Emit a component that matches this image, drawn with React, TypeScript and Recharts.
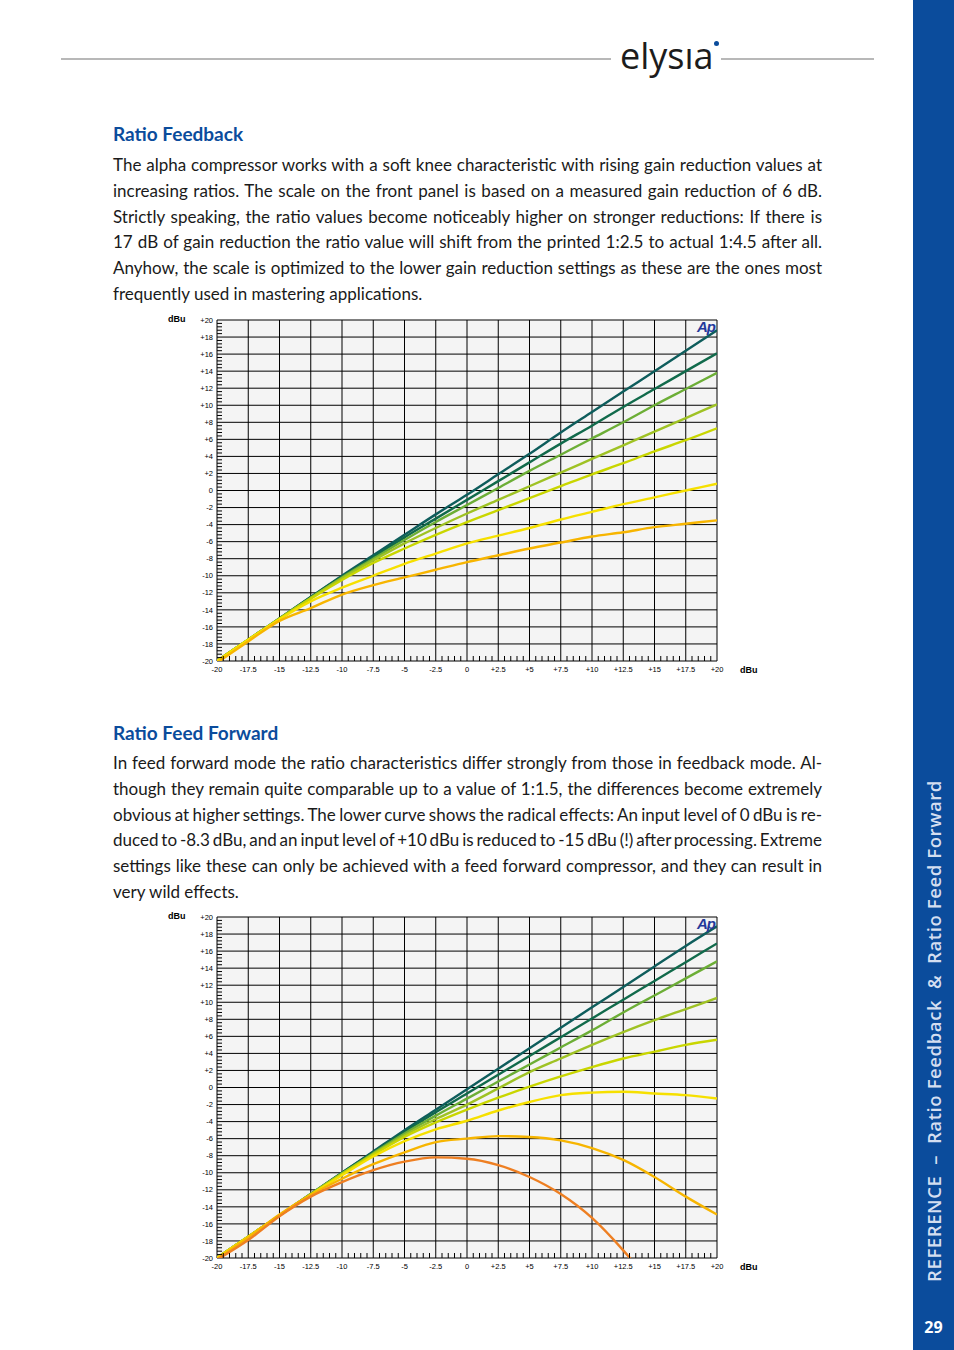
import { LineChart, Line, XAxis, YAxis, CartesianGrid } from "recharts";

// input level (dBu) on the x axis
const inputLevels = [-20, -17.5, -15, -12.5, -10, -7.5, -5, -2.5, 0, 2.5, 5, 7.5, 10, 12.5, 15, 17.5, 20];

// ratio feedback: output level per ratio setting
const fbTeal = [-20, -17.5, -15, -12.5, -10, -7.6, -5.2, -2.8, -0.5, 1.9, 4.3, 6.8, 9.2, 11.6, 14, 16.4, 18.8];
const fbDarkGreen = [-20, -17.5, -15, -12.5, -10.1, -7.8, -5.5, -3.3, -1.1, 1.1, 3.3, 5.5, 7.6, 9.8, 11.9, 14, 16.1];
const fbGreen = [-20, -17.5, -15, -12.6, -10.2, -8, -5.8, -3.7, -1.7, 0.3, 2.3, 4.2, 6.1, 8, 10, 11.9, 13.8];
const fbYellowGreen = [-20, -17.5, -15, -12.6, -10.3, -8.2, -6.2, -4.4, -2.7, -1.1, 0.5, 2.1, 3.7, 5.3, 6.9, 8.5, 10.1];
const fbLime = [-20, -17.5, -15.1, -12.7, -10.5, -8.5, -6.8, -5.2, -3.7, -2.3, -0.9, 0.5, 1.9, 3.2, 4.6, 5.9, 7.3];
const fbYellow = [-20, -17.5, -15.1, -13, -11.4, -10, -8.6, -7.4, -6.2, -5.3, -4.4, -3.4, -2.5, -1.6, -0.8, 0, 0.8];
const fbAmber = [-20.2, -17.7, -15.3, -13.8, -12.2, -11.1, -10.2, -9.3, -8.4, -7.6, -6.8, -6.1, -5.4, -4.9, -4.3, -3.9, -3.5];

// ratio feed forward
const ffTeal = [-20, -17.5, -15, -12.5, -10, -7.5, -5, -2.6, -0.2, 2.2, 4.6, 7, 9.4, 11.8, 14.2, 16.6, 18.9];
const ffDarkGreen = [-20, -17.5, -15, -12.5, -10, -7.6, -5.2, -2.9, -0.7, 1.5, 3.7, 5.9, 8.1, 10.3, 12.5, 14.7, 16.9];
const ffGreen = [-20, -17.5, -15, -12.5, -10.1, -7.7, -5.4, -3.3, -1.3, 0.7, 2.7, 4.7, 6.7, 8.8, 10.8, 12.8, 14.8];
const ffYellowGreen = [-20, -17.5, -15, -12.5, -10.1, -7.8, -5.6, -3.7, -2, -0.1, 1.8, 3.4, 5, 6.5, 7.9, 9.2, 10.5];
const ffLime = [-20, -17.5, -15, -12.6, -10.2, -7.9, -5.8, -4.1, -2.6, -1.2, 0.1, 1.3, 2.4, 3.4, 4.2, 5, 5.6];
const ffYellow = [-20, -17.5, -15, -12.6, -10.3, -8.1, -6.3, -4.9, -3.9, -2.7, -1.7, -0.9, -0.6, -0.5, -0.7, -0.9, -1.3];
const ffAmber = [-20.1, -17.6, -14.9, -12.6, -10.7, -9, -7.6, -6.4, -6, -5.7, -5.8, -6.2, -7.1, -8.5, -10.5, -12.8, -14.9];
const ffOrange = [-20.2, -17.9, -15.1, -12.8, -11.1, -9.7, -8.7, -8.2, -8.35, -9.1, -10.5, -12.5, -15.3, -19.1, -23.5, null, null];

const colors = ["#0e5d5c", "#116a4b", "#6cae36", "#9fc224", "#c9d600", "#f6e000", "#f7b500", "#ee7f22"];

const xTicks = [-20, -17.5, -15, -12.5, -10, -7.5, -5, -2.5, 0, 2.5, 5, 7.5, 10, 12.5, 15, 17.5, 20];
const xTickLabels = ["-20", "-17.5", "-15", "-12.5", "-10", "-7.5", "-5", "-2.5", "0", "+2.5", "+5", "+7.5", "+10", "+12.5", "+15", "+17.5", "+20"];
const yTicks = [-20, -18, -16, -14, -12, -10, -8, -6, -4, -2, 0, 2, 4, 6, 8, 10, 12, 14, 16, 18, 20];
const yTickLabels = ["-20", "-18", "-16", "-14", "-12", "-10", "-8", "-6", "-4", "-2", "0", "+2", "+4", "+6", "+8", "+10", "+12", "+14", "+16", "+18", "+20"];

// small ticks inside the frame
const minorX: number[] = [];
for (let i = 0; i <= 80; i++) if (i % 5 !== 0) minorX.push(-20 + i * 0.5);
const minorY: number[] = [];
for (let i = 0; i <= 100; i++) if (i % 5 !== 0) minorY.push(-20 + i * 0.4);

const feedbackText = [
  "The alpha compressor works with a soft knee characteristic with rising gain reduction values at",
  "increasing ratios. The scale on the front panel is based on a measured gain reduction of 6 dB.",
  "Strictly speaking, the ratio values become noticeably higher on stronger reductions: If there is",
  "17 dB of gain reduction the ratio value will shift from the printed 1:2.5 to actual 1:4.5 after all.",
  "Anyhow, the scale is optimized to the lower gain reduction settings as these are the ones most",
  "frequently used in mastering applications.",
];
const feedForwardText = [
  "In feed forward mode the ratio characteristics differ strongly from those in feedback mode. Al-",
  "though they remain quite comparable up to a value of 1:1.5, the differences become extremely",
  "obvious at higher settings. The lower curve shows the radical effects: An input level of 0 dBu is re-",
  "duced to -8.3 dBu, and an input level of +10 dBu is reduced to -15 dBu (!) after processing. Extreme",
  "settings like these can only be achieved with a feed forward compressor, and they can result in",
  "very wild effects.",
];

const blue = "#0b4c9c";
const axisFont = "'Liberation Sans', Arial, sans-serif";
const bodyFont = "Lato, 'Noto Sans', sans-serif";

type Curve = { key: string; values: (number | null)[]; color: string };

const feedbackCurves: Curve[] = [
  { key: "c1", values: fbTeal, color: colors[0] },
  { key: "c2", values: fbDarkGreen, color: colors[1] },
  { key: "c3", values: fbGreen, color: colors[2] },
  { key: "c4", values: fbYellowGreen, color: colors[3] },
  { key: "c5", values: fbLime, color: colors[4] },
  { key: "c6", values: fbYellow, color: colors[5] },
  { key: "c7", values: fbAmber, color: colors[6] },
];
const feedForwardCurves: Curve[] = [
  { key: "c1", values: ffTeal, color: colors[0] },
  { key: "c2", values: ffDarkGreen, color: colors[1] },
  { key: "c3", values: ffGreen, color: colors[2] },
  { key: "c4", values: ffYellowGreen, color: colors[3] },
  { key: "c5", values: ffLime, color: colors[4] },
  { key: "c6", values: ffYellow, color: colors[5] },
  { key: "c7", values: ffAmber, color: colors[6] },
  { key: "c8", values: ffOrange, color: colors[7] },
];

const fmtX = (v: number) => xTickLabels[xTicks.indexOf(v)] ?? String(v);
const fmtY = (v: number) => yTickLabels[yTicks.indexOf(v)] ?? String(v);
const noLabel = () => <g />;

function TransferChart({ curves, top }: { curves: Curve[]; top: number }) {
  const rows = inputLevels.map((x, i) => {
    const row: Record<string, number | null> = { x };
    curves.forEach((c) => {
      row[c.key] = c.values[i];
    });
    return row;
  });

  return (
    <div style={{ position: "absolute", left: 160, top, width: 620, height: 370 }}>
      <LineChart width={620} height={370} data={rows} margin={{ top: 10, right: 63, bottom: 0, left: 0 }}>
        <CartesianGrid stroke="#000" strokeWidth={1} fill="#f4f4f4" fillOpacity={1} />
        <XAxis
          xAxisId="minor"
          dataKey="x"
          type="number"
          domain={[-20, 20]}
          ticks={minorX}
          interval={0}
          height={1}
          mirror
          tickSize={5}
          axisLine={false}
          tickLine={{ stroke: "#000" }}
          tick={noLabel}
          allowDataOverflow
        />
        <XAxis
          dataKey="x"
          type="number"
          domain={[-20, 20]}
          ticks={xTicks}
          interval={0}
          height={19}
          tickSize={0}
          tickMargin={6}
          axisLine={false}
          tickLine={false}
          tickFormatter={fmtX}
          tick={{ fontSize: 7.5, fill: "#000", fontFamily: axisFont }}
          allowDataOverflow
        />
        <YAxis
          yAxisId="minor"
          type="number"
          domain={[-20, 20]}
          ticks={minorY}
          interval={0}
          width={1}
          mirror
          tickSize={5}
          axisLine={false}
          tickLine={{ stroke: "#000" }}
          tick={noLabel}
          allowDataOverflow
        />
        <YAxis
          type="number"
          domain={[-20, 20]}
          ticks={yTicks}
          interval={0}
          width={57}
          tickSize={0}
          tickMargin={4}
          axisLine={false}
          tickLine={false}
          tickFormatter={fmtY}
          tick={{ fontSize: 7.5, fill: "#000", fontFamily: axisFont }}
          allowDataOverflow
        />
        {curves.map((c) => (
          <Line
            key={c.key}
            dataKey={c.key}
            type="monotone"
            stroke={c.color}
            strokeWidth={2.4}
            dot={false}
            activeDot={false}
            connectNulls={false}
            isAnimationActive={false}
          />
        ))}
      </LineChart>
      <div style={{ position: "absolute", left: 8, top: 4, fontFamily: axisFont, fontWeight: 700, fontSize: 9 }}>dBu</div>
      <div style={{ position: "absolute", left: 580, top: 355, fontFamily: axisFont, fontWeight: 700, fontSize: 9 }}>dBu</div>
      <div
        style={{
          position: "absolute",
          left: 537,
          top: 8,
          fontFamily: axisFont,
          fontWeight: 700,
          fontStyle: "italic",
          fontSize: 15,
          color: "#24399a",
          letterSpacing: -1,
        }}
      >
        Ap
      </div>
    </div>
  );
}

function Paragraph({ lines, top }: { lines: string[]; top: number }) {
  return (
    <div style={{ position: "absolute", left: 113, top, width: 709, fontFamily: bodyFont, fontSize: 17, color: "#1a1a1a" }}>
      {lines.map((l, i) => {
        const last = i === lines.length - 1;
        return (
          <div
            key={i}
            style={{
              height: 25.8,
              lineHeight: "25.8px",
              whiteSpace: "nowrap",
              textAlign: "justify",
              textAlignLast: last ? "left" : "justify",
              wordSpacing: last ? 0 : -2,
            }}
          >
            {l}
          </div>
        );
      })}
    </div>
  );
}

export default function App() {
  return (
    <div style={{ position: "absolute", left: 0, top: 0, width: 954, height: 1350, background: "#fff", overflow: "hidden" }}>
      {/* header */}
      <div style={{ position: "absolute", left: 61, top: 58, width: 550, height: 1.5, background: "#b8b8b8" }} />
      <div style={{ position: "absolute", left: 721, top: 58, width: 153, height: 1.5, background: "#b8b8b8" }} />
      <div style={{ position: "absolute", left: 620, top: 36, fontFamily: "'Open Sans', sans-serif", fontSize: 36, lineHeight: "40px", color: "#1c1c1c" }}>
        elysıa
      </div>
      <div style={{ position: "absolute", left: 714, top: 41, width: 5, height: 5, borderRadius: 3, background: blue }} />

      {/* sidebar */}
      <div style={{ position: "absolute", left: 913, top: 0, width: 41, height: 1350, background: blue }} />
      <div
        style={{
          position: "absolute",
          left: 934 - 260,
          top: 1031 - 12,
          width: 520,
          height: 24,
          lineHeight: "24px",
          textAlign: "center",
          transform: "rotate(-90deg)",
          color: "#d4def0",
          fontFamily: "'Open Sans', sans-serif",
          fontSize: 18.5,
          fontWeight: 600,
          letterSpacing: 0.6,
          whiteSpace: "pre",
        }}
      >
        {"REFERENCE  –  Ratio Feedback  &  Ratio Feed Forward"}
      </div>
      <div style={{ position: "absolute", left: 913, width: 41, top: 1316, textAlign: "center", color: "#fff", fontFamily: "'Open Sans', sans-serif", fontWeight: 700, fontSize: 16 }}>
        29
      </div>

      {/* ratio feedback */}
      <div style={{ position: "absolute", left: 113, top: 123, fontFamily: bodyFont, fontWeight: 700, fontSize: 19, lineHeight: "22px", color: blue }}>
        Ratio Feedback
      </div>
      <Paragraph lines={feedbackText} top={152} />
      <TransferChart curves={feedbackCurves} top={310} />

      {/* ratio feed forward */}
      <div style={{ position: "absolute", left: 113, top: 722, fontFamily: bodyFont, fontWeight: 700, fontSize: 19, lineHeight: "22px", color: blue }}>
        Ratio Feed Forward
      </div>
      <Paragraph lines={feedForwardText} top={750} />
      <TransferChart curves={feedForwardCurves} top={907} />
    </div>
  );
}
